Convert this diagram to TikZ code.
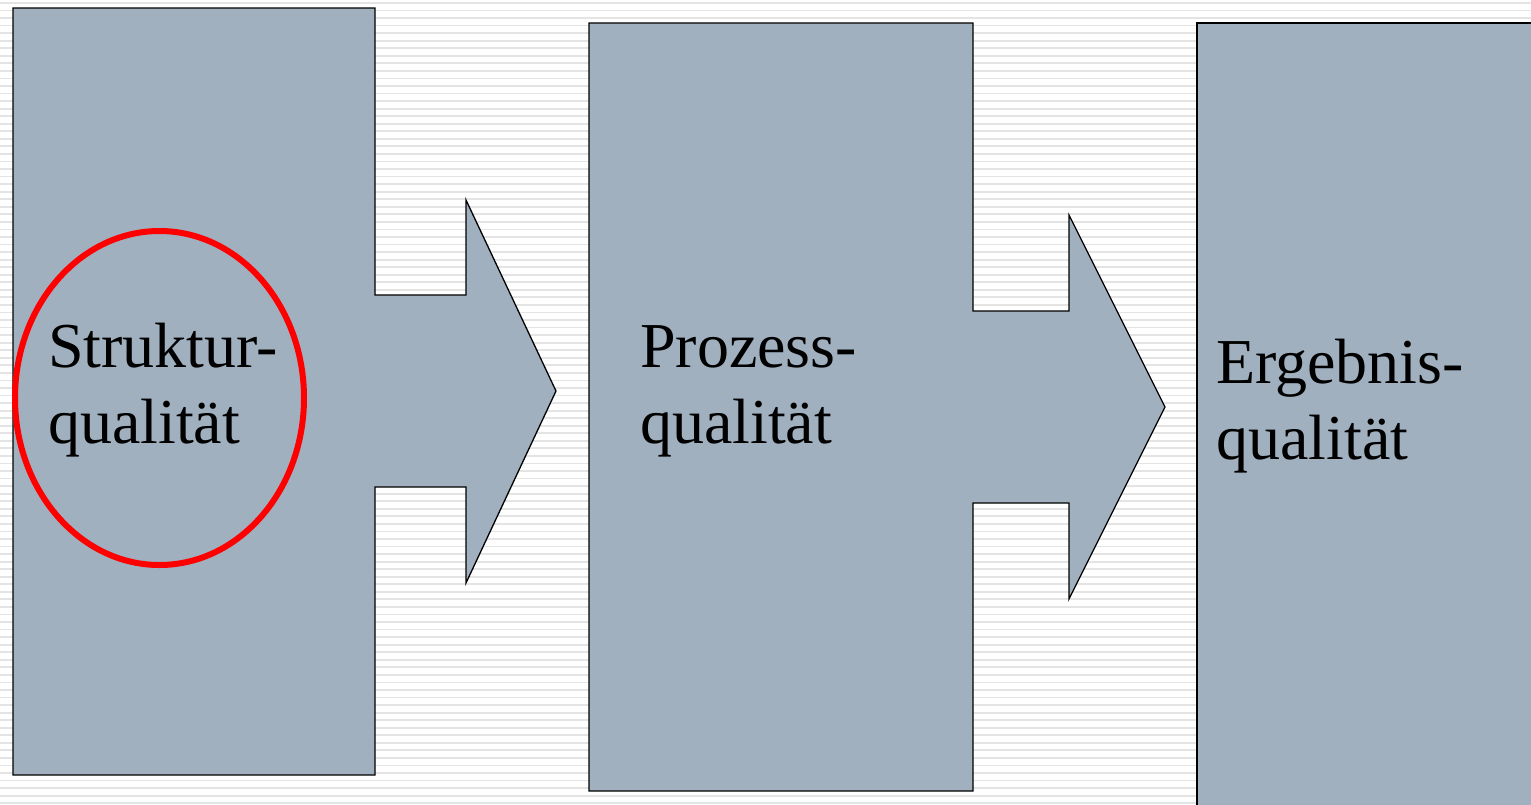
\documentclass[tikz,border=0pt]{standalone}
\usepackage{fontspec}
\setmainfont{Liberation Serif}
\definecolor{boxfill}{HTML}{A1B0BF}
\definecolor{stripe}{HTML}{E4E4E4}
\definecolor{ringred}{HTML}{FF0000}
\tikzset{
  flowshape/.style={fill=boxfill, draw=black, line width=1.3pt, line join=miter},
  label/.style={anchor=base west, inner sep=0pt, font=\fontsize{64}{76}\selectfont},
  ring/.style={draw=ringred, line width=6pt}
}
\begin{document}
\begin{tikzpicture}[x=1pt, y=-1pt]
\useasboundingbox (0,0) rectangle (1531,804);
\clip (0,0) rectangle (1531,804);
\fill[white] (0,0) rectangle (1531,804);
\foreach \i in {0,...,106} {
  \fill[stripe] (0,{2+\i*7.55}) rectangle (1531,{3.8+\i*7.55});
}
% Struktur
\draw[flowshape] (13,8) -- (375,8) -- (375,295) -- (466,295) -- (466,200) -- (556,391)
  -- (466,583) -- (466,487) -- (375,487) -- (375,775) -- (13,775) -- cycle;
% Prozess
\draw[flowshape] (589,23) -- (973,23) -- (973,311) -- (1069,311) -- (1069,215) -- (1165,407)
  -- (1069,599) -- (1069,503) -- (973,503) -- (973,791) -- (589,791) -- cycle;
% Ergebnis
\draw[flowshape] (1197,830) -- (1197,23) -- (1545,23) -- (1545,830);
% red ring
\draw[ring] (159.5,398) ellipse [x radius=144.5, y radius=167];
% texts
\node[label] (s1) at (48,367) {Struktur-};
\node[label] (s2) at (48,443) {qualität};
\node[label] (p1) at (640,367) {Prozess-};
\node[label] (p2) at (640,443) {qualität};
\node[label] (e1) at (1216,383) {Ergebnis-};
\node[label] (e2) at (1216,459) {qualität};
\end{tikzpicture}
\end{document}
